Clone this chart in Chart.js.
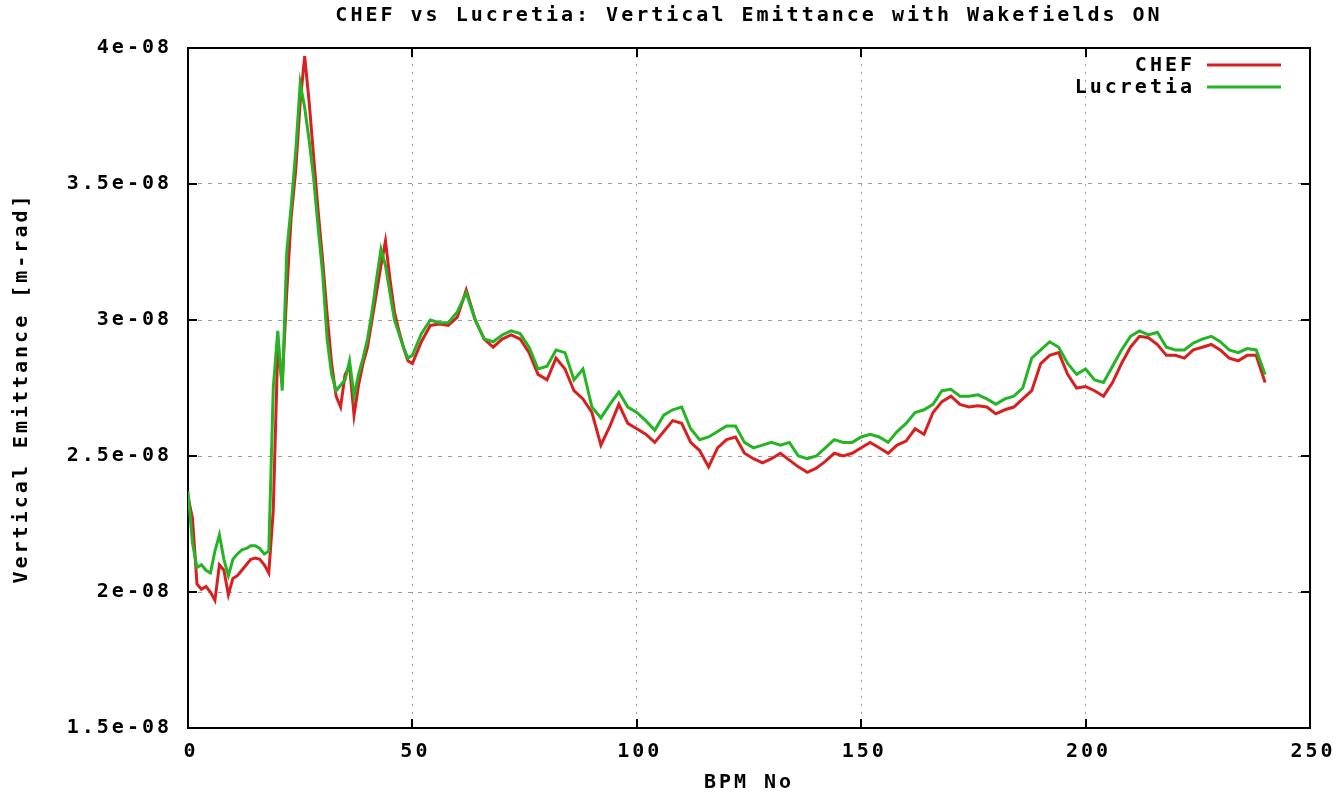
<!DOCTYPE html>
<html lang="en">
<head>
  <meta charset="UTF-8" />
  <title>CHEF vs Lucretia: Vertical Emittance</title>
  <script src="https://cdn.jsdelivr.net/npm/chart.js"></script>
  <style>
    html, body {
      margin: 0;
      padding: 0;
      background: #fff;
      overflow: hidden;
    }
    canvas { display: block; }
  </style>
</head>
<body>
  <canvas id="emitChart" width="1342" height="794"></canvas>

  <script>
    // BPM index (x) and vertical emittance in units of 1e-8 m-rad (y)
    const bpm = [
      0, 1, 2, 3, 4, 5, 6, 7, 8, 9,
      10, 11, 12, 13, 14, 15, 16, 17, 18, 19,
      20, 21, 22, 23, 24, 25, 26, 27, 28, 29,
      30, 31, 32, 33, 34, 35, 36, 37, 38, 39,
      40, 41, 42, 43, 44, 45, 46, 47, 48, 49, 50,
      52, 54, 56, 58, 60, 62, 64, 66, 68, 70,
      72, 74, 76, 78, 80, 82, 84, 86, 88, 90,
      92, 94, 96, 98, 100, 102, 104, 106, 108, 110,
      112, 114, 116, 118, 120, 122, 124, 126, 128, 130,
      132, 134, 136, 138, 140, 142, 144, 146, 148, 150,
      152, 154, 156, 158, 160, 162, 164, 166, 168, 170,
      172, 174, 176, 178, 180, 182, 184, 186, 188, 190,
      192, 194, 196, 198, 200, 202, 204, 206, 208, 210,
      212, 214, 216, 218, 220, 222, 224, 226, 228, 230,
      232, 234, 236, 238, 240
    ];

    const chef = [
      2.35, 2.27, 2.03, 2.01, 2.02, 2.00, 1.97, 2.10, 2.08, 1.99,
      2.05, 2.06, 2.08, 2.10, 2.12, 2.125, 2.12, 2.10, 2.07, 2.30,
      2.90, 2.77, 3.10, 3.38, 3.55, 3.80, 3.97, 3.80, 3.60, 3.40,
      3.22, 3.02, 2.84, 2.72, 2.68, 2.80, 2.83, 2.65, 2.76, 2.84,
      2.90, 3.00, 3.10, 3.20, 3.29, 3.15, 3.03, 2.96, 2.90, 2.85, 2.84,
      2.92, 2.98, 2.985, 2.98, 3.01, 3.11, 3.00, 2.93, 2.90, 2.93,
      2.945, 2.93, 2.88, 2.80, 2.78, 2.86, 2.82, 2.74, 2.71, 2.66,
      2.54, 2.61, 2.69, 2.62, 2.60, 2.58, 2.55, 2.59, 2.63, 2.62,
      2.55, 2.52, 2.46, 2.53, 2.56, 2.57, 2.51, 2.49, 2.475, 2.49,
      2.51, 2.485, 2.46, 2.44, 2.455, 2.48, 2.51, 2.50, 2.51, 2.53,
      2.55, 2.53, 2.51, 2.54, 2.555, 2.60, 2.58, 2.66, 2.70, 2.72,
      2.69, 2.68, 2.685, 2.68, 2.655, 2.67, 2.68, 2.71, 2.74, 2.84,
      2.87, 2.88, 2.80, 2.75, 2.755, 2.74, 2.72, 2.77, 2.84, 2.90,
      2.94, 2.935, 2.91, 2.87, 2.87, 2.86, 2.89, 2.90, 2.91, 2.89,
      2.86, 2.85, 2.87, 2.87, 2.77
    ];

    const lucretia = [
      2.37, 2.18, 2.09, 2.10, 2.08, 2.07, 2.15, 2.21, 2.12, 2.06,
      2.12, 2.14, 2.155, 2.16, 2.17, 2.17, 2.16, 2.14, 2.15, 2.75,
      2.96, 2.74, 3.25, 3.42, 3.62, 3.87, 3.78, 3.66, 3.52, 3.34,
      3.17, 2.93, 2.80, 2.74, 2.76, 2.78, 2.85, 2.72, 2.80, 2.86,
      2.93, 3.03, 3.15, 3.26, 3.20, 3.10, 3.00, 2.95, 2.90, 2.86, 2.87,
      2.95, 3.00, 2.99, 2.99, 3.03, 3.10, 3.00, 2.93, 2.92, 2.945,
      2.96, 2.95, 2.90, 2.82, 2.83, 2.89, 2.88, 2.78, 2.82, 2.68,
      2.64, 2.69, 2.735, 2.68, 2.66, 2.63, 2.595, 2.65, 2.67, 2.68,
      2.60, 2.56, 2.57, 2.59, 2.61, 2.61, 2.55, 2.53, 2.54, 2.55,
      2.54, 2.55, 2.50, 2.49, 2.50, 2.53, 2.56, 2.55, 2.55, 2.57,
      2.58, 2.57, 2.55, 2.59, 2.62, 2.66, 2.67, 2.69, 2.74, 2.745,
      2.72, 2.72, 2.725, 2.71, 2.69, 2.71, 2.72, 2.75, 2.86, 2.89,
      2.92, 2.90, 2.84, 2.80, 2.82, 2.78, 2.77, 2.83, 2.89, 2.94,
      2.96, 2.945, 2.955, 2.90, 2.89, 2.89, 2.915, 2.93, 2.94, 2.92,
      2.89, 2.88, 2.895, 2.89, 2.80
    ];

    const xTicks = [0, 50, 100, 150, 200, 250];
    const yTicks = [1.5, 2, 2.5, 3, 3.5, 4];
    const yTickLabels = ["1.5e-08", "2e-08", "2.5e-08", "3e-08", "3.5e-08", "4e-08"];

    const chartTitle = "CHEF vs Lucretia: Vertical Emittance with Wakefields ON";
    const xTitle = "BPM No";
    const yTitle = "Vertical Emittance [m-rad]";

    const RED = "#d82020";
    const GREEN = "#24b424";
    const FONT = 'bold 20px "DejaVu Sans Mono", "Liberation Mono", monospace';

    // gnuplot-like frame, inward ticks and all labels
    const gnuplotLook = {
      id: "gnuplotLook",
      beforeDatasetsDraw(chart) {
        const { ctx, chartArea: a, scales: { x, y } } = chart;
        ctx.save();
        ctx.strokeStyle = "#000";
        ctx.lineWidth = 2;
        ctx.strokeRect(a.left, a.top, a.right - a.left, a.bottom - a.top);
        ctx.beginPath();
        xTicks.forEach(v => {
          const px = Math.round(x.getPixelForValue(v));
          ctx.moveTo(px, a.bottom); ctx.lineTo(px, a.bottom - 9);
          ctx.moveTo(px, a.top); ctx.lineTo(px, a.top + 9);
        });
        yTicks.forEach(v => {
          const py = Math.round(y.getPixelForValue(v));
          ctx.moveTo(a.left, py); ctx.lineTo(a.left + 9, py);
          ctx.moveTo(a.right, py); ctx.lineTo(a.right - 9, py);
        });
        ctx.stroke();
        ctx.restore();
      },
      afterDraw(chart) {
        const { ctx, chartArea: a, scales: { x, y } } = chart;
        const midX = (a.left + a.right) / 2;
        ctx.save();
        ctx.fillStyle = "#000";
        ctx.font = FONT;
        ctx.letterSpacing = "3px";
        ctx.textBaseline = "middle";

        ctx.textAlign = "center";
        ctx.fillText(chartTitle, midX, 16);
        ctx.fillText(xTitle, midX, 783);
        xTicks.forEach(v => ctx.fillText(String(v), x.getPixelForValue(v) + 3, 752));

        ctx.textAlign = "right";
        yTicks.forEach((v, i) => ctx.fillText(yTickLabels[i], 172, y.getPixelForValue(v)));

        // legend
        ctx.fillText("CHEF", 1195, 66);
        ctx.fillText("Lucretia", 1195, 88);
        ctx.lineWidth = 3;
        ctx.strokeStyle = RED;
        ctx.beginPath(); ctx.moveTo(1207, 65); ctx.lineTo(1281, 65); ctx.stroke();
        ctx.strokeStyle = GREEN;
        ctx.beginPath(); ctx.moveTo(1207, 87); ctx.lineTo(1281, 87); ctx.stroke();

        // rotated y-axis title
        ctx.translate(22, (a.top + a.bottom) / 2);
        ctx.rotate(-Math.PI / 2);
        ctx.textAlign = "center";
        ctx.fillText(yTitle, 0, 0);
        ctx.restore();
      }
    };

    const ctx = document.getElementById("emitChart").getContext("2d");
    const chart = new Chart(ctx, {
      type: "line",
      data: {
        datasets: [
          {
            label: "CHEF",
            data: bpm.map((b, i) => ({ x: b, y: chef[i] })),
            borderColor: RED,
            borderWidth: 3,
            pointRadius: 0,
            tension: 0,
            order: 1
          },
          {
            label: "Lucretia",
            data: bpm.map((b, i) => ({ x: b, y: lucretia[i] })),
            borderColor: GREEN,
            borderWidth: 3,
            pointRadius: 0,
            tension: 0,
            order: 0
          }
        ]
      },
      options: {
        responsive: false,
        animation: false,
        layout: { padding: { left: 188, top: 48, right: 32, bottom: 66 } },
        plugins: {
          legend: { display: false },
          title: { display: false },
          tooltip: { enabled: false }
        },
        scales: {
          x: {
            type: "linear",
            min: 0,
            max: 250,
            afterBuildTicks: axis => { axis.ticks = xTicks.map(v => ({ value: v })); },
            ticks: { display: false },
            grid: { color: "#9a9a9a", lineWidth: 1, drawTicks: false },
            border: { display: false, dash: [2, 6] }
          },
          y: {
            type: "linear",
            min: 1.5,
            max: 4,
            afterBuildTicks: axis => { axis.ticks = yTicks.map(v => ({ value: v })); },
            ticks: { display: false },
            grid: { color: "#9a9a9a", lineWidth: 1, drawTicks: false },
            border: { display: false, dash: [4, 6] }
          }
        }
      },
      plugins: [gnuplotLook]
    });
  </script>
</body>
</html>
